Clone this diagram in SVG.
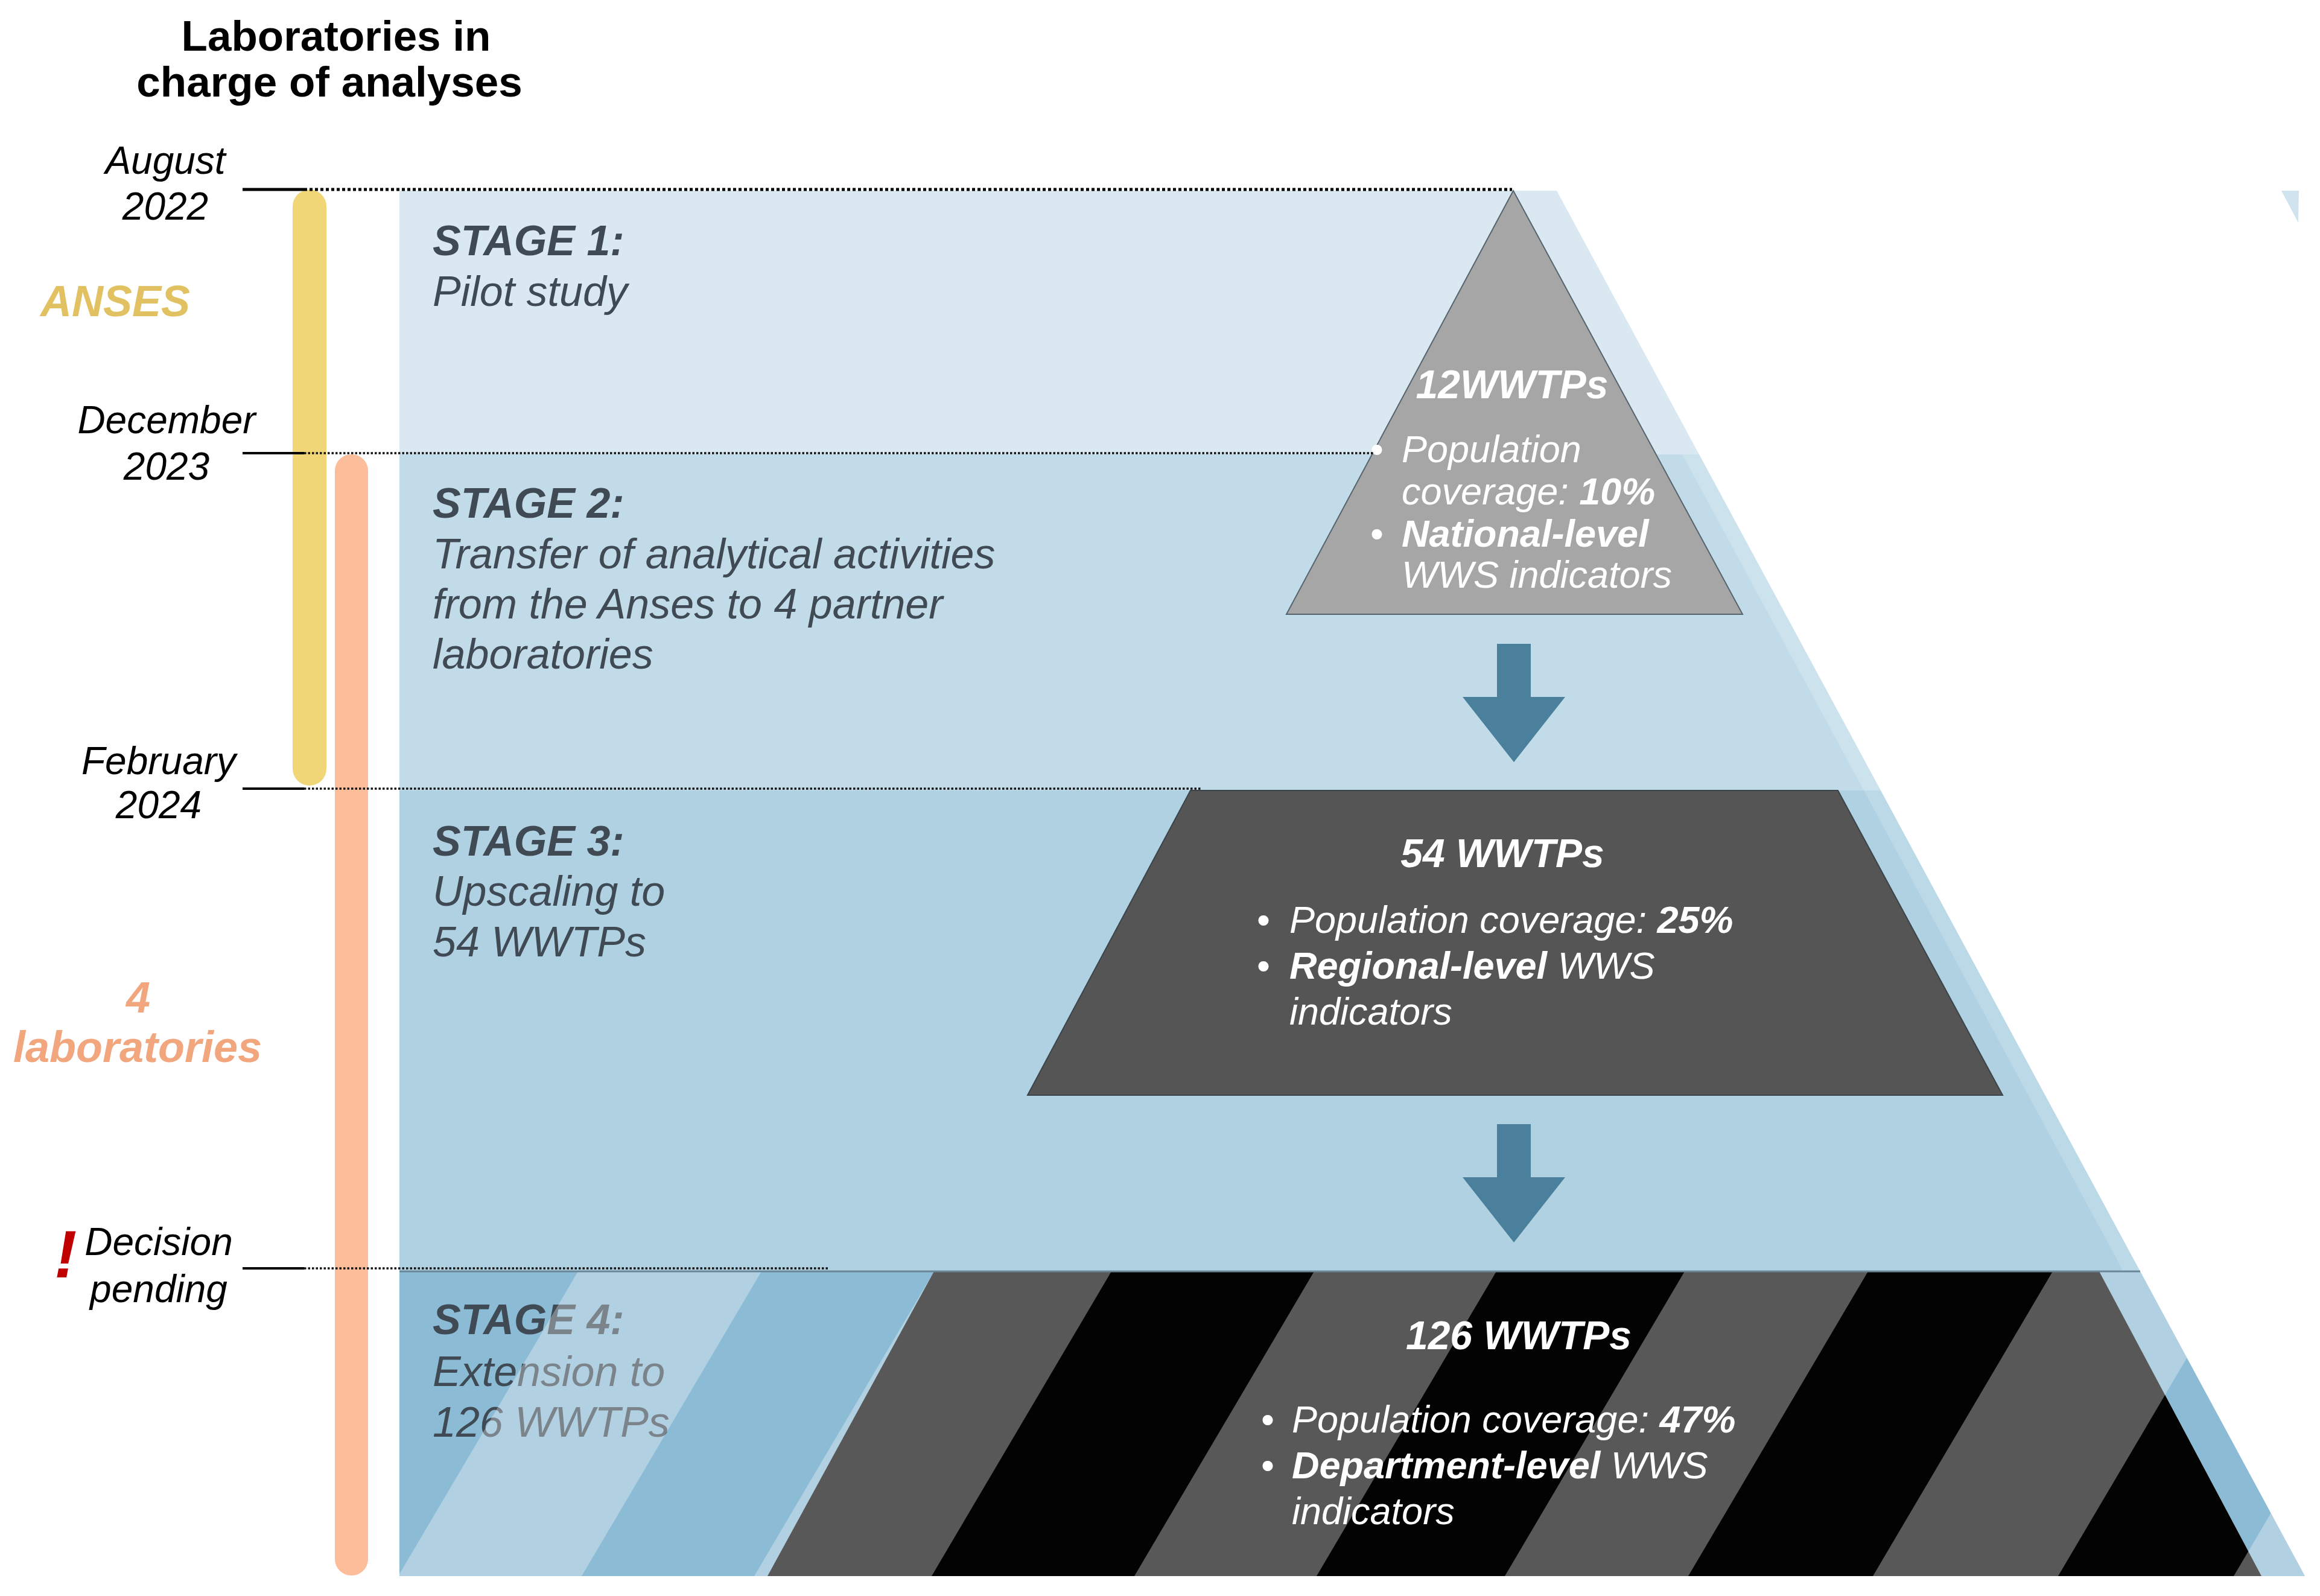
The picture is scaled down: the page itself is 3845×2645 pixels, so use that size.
<svg xmlns="http://www.w3.org/2000/svg" width="3845" height="2645" viewBox="0 0 3845 2645">
<style>
  text { font-family: "Liberation Sans", Arial, sans-serif; }
  .title { font-weight: bold; font-size: 71px; fill: #000; text-anchor: middle; }
  .date { font-style: italic; font-size: 64px; fill: #000; text-anchor: middle; }
  .stage { font-weight: bold; font-style: italic; font-size: 70px; fill: #3f4a54; }
  .desc { font-style: italic; font-size: 70px; fill: #3f4a54; }
  .wt { font-weight: bold; font-style: italic; font-size: 66px; fill: #fff; text-anchor: middle; }
  .bt { font-style: italic; font-size: 63px; fill: #fff; }
  .bul { font-size: 63px; fill: #fff; }
  .b { font-weight: bold; }
  .tick { stroke: #000; stroke-width: 5; }
  .dotA { stroke: #000; stroke-width: 5; stroke-dasharray: 5 4; fill: none; }
  .dotB { stroke: #111; stroke-width: 3.5; stroke-dasharray: 3.5 3; fill: none; }
  .arrow { fill: #4a809b; }
  .lab { font-weight: bold; font-style: italic; font-size: 72px; }
</style>
<defs>
  <clipPath id="band4"><polygon points="662,2107 3547,2107 3820,2612 662,2612"/></clipPath>
  <clipPath id="trap4"><polygon points="1548,2107 3479,2107 3748,2612 1272,2612"/></clipPath>
</defs>
<rect x="0" y="0" width="3845" height="2645" fill="#fff"/>

<g id="pyramid-bands">
  <polygon points="662,316 2580,316 2816,753 662,753" fill="#dae9f1"/>
  <polygon points="662,753 2816,753 3117,1310 662,1310" fill="#cce2ed"/>
  <polygon points="662,753 2788,753 3089,1310 662,1310" fill="#c2dbe8"/>
  <polygon points="662,1310 3117,1310 3547,2107 662,2107" fill="#bcd9e8"/>
  <polygon points="662,1310 3089,1310 3519,2107 662,2107" fill="#b0d1e2"/>
  <polygon points="3781,316 3810,316 3809,369" fill="#cfe4ef"/>
</g>

<g id="stage1">
  <text class="stage" x="717" y="423">STAGE 1:</text>
  <text class="desc" x="717" y="507">Pilot study</text>
</g>
<g id="stage2">
  <text class="stage" x="717" y="858">STAGE 2:</text>
  <text class="desc" x="717" y="942">Transfer of analytical activities</text>
  <text class="desc" x="717" y="1025">from the Anses to 4 partner</text>
  <text class="desc" x="717" y="1108">laboratories</text>
</g>
<g id="stage3">
  <text class="stage" x="717" y="1418">STAGE 3:</text>
  <text class="desc" x="717" y="1501">Upscaling to</text>
  <text class="desc" x="717" y="1585">54 WWTPs</text>
</g>

<g id="stage4">
  <polygon points="662,2107 3547,2107 3820,2612 662,2612" fill="#8cbbd5"/>
  <text class="stage" x="717" y="2211">STAGE 4:</text>
  <text class="desc" x="717" y="2297">Extension to</text>
  <text class="desc" x="717" y="2381">126 WWTPs</text>
  <g clip-path="url(#band4)" fill="#fff" fill-opacity="0.32">
    <polygon points="958,2107 1262,2107 964,2612 660,2612"/>
    <polygon points="1548,2107 1842,2107 1544,2612 1250,2612"/>
    <polygon points="2178,2107 2480,2107 2182,2612 1880,2612"/>
    <polygon points="2792,2107 3096,2107 2798,2612 2494,2612"/>
    <polygon points="3402,2107 3709,2107 3411,2612 3104,2612"/>
    <polygon points="4000,2107 4300,2107 4002,2612 3702,2612"/>
  </g>
  <polygon points="1548,2107 3479,2107 3748,2612 1272,2612" fill="#585858"/>
  <g clip-path="url(#trap4)" fill="#030303">
    <polygon points="1842,2107 2178,2107 1880,2612 1544,2612"/>
    <polygon points="2480,2107 2792,2107 2494,2612 2182,2612"/>
    <polygon points="3096,2107 3402,2107 3104,2612 2798,2612"/>
    <polygon points="3709,2107 4000,2107 3702,2612 3411,2612"/>
  </g>
  <line x1="662" y1="2107" x2="3547" y2="2107" stroke="#6a8797" stroke-width="3"/>
</g>

<g id="node-12wwtps">
  <polygon points="2508,316 2132,1018 2888,1018" fill="#a6a6a6" stroke="#56646e" stroke-width="2"/>
  <text class="wt" x="2506" y="660">12WWTPs</text>
  <text class="bul" x="2271" y="766">•</text>
  <text class="bt" x="2323" y="766">Population</text>
  <text class="bt" x="2323" y="836">coverage: <tspan class="b">10%</tspan></text>
  <text class="bul" x="2271" y="906">•</text>
  <text class="bt" x="2323" y="906"><tspan class="b">National-level</tspan></text>
  <text class="bt" x="2323" y="974">WWS indicators</text>
</g>

<g id="node-54wwtps">
  <polygon points="1973,1310 3046,1310 3319,1815 1703,1815" fill="#555555" stroke="#3b444b" stroke-width="2"/>
  <text class="wt" x="2490" y="1437">54 WWTPs</text>
  <text class="bul" x="2083" y="1546">•</text>
  <text class="bt" x="2137" y="1546">Population coverage: <tspan class="b">25%</tspan></text>
  <text class="bul" x="2083" y="1622">•</text>
  <text class="bt" x="2137" y="1622"><tspan class="b">Regional-level</tspan> WWS</text>
  <text class="bt" x="2137" y="1698">indicators</text>
</g>

<g id="node-126wwtps">
  <text class="wt" x="2517" y="2236">126 WWTPs</text>
  <text class="bul" x="2090" y="2374">•</text>
  <text class="bt" x="2141" y="2374">Population coverage: <tspan class="b">47%</tspan></text>
  <text class="bul" x="2090" y="2450">•</text>
  <text class="bt" x="2141" y="2450"><tspan class="b">Department-level</tspan> WWS</text>
  <text class="bt" x="2141" y="2526">indicators</text>
</g>

<g id="connectors">
  <polygon class="arrow" points="2481,1067 2537,1067 2537,1155 2594,1155 2509,1263 2424,1155 2481,1155"/>
  <polygon class="arrow" points="2481,1863 2537,1863 2537,1951 2594,1951 2509,2059 2424,1951 2481,1951"/>
</g>

<g id="timeline">
  <rect x="485" y="314" width="56" height="988" rx="28" fill="#f1d677"/>
  <rect x="555" y="753" width="55" height="1858" rx="27" fill="#fbbd9a"/>
  <line class="tick" x1="402" y1="314" x2="504" y2="314"/>
  <line class="dotA" x1="504" y1="314" x2="2506" y2="314"/>
  <line class="tick" x1="402" y1="751" x2="504" y2="751" style="stroke-width:4"/>
  <line class="dotB" x1="504" y1="751" x2="2276" y2="751"/>
  <line class="tick" x1="402" y1="1307" x2="504" y2="1307" style="stroke-width:4"/>
  <line class="dotB" x1="504" y1="1307" x2="1990" y2="1307"/>
  <line class="tick" x1="402" y1="2102" x2="504" y2="2102" style="stroke-width:4"/>
  <line class="dotB" x1="504" y1="2102" x2="1375" y2="2102"/>
</g>

<g id="labels">
  <text class="title" x="557" y="84">Laboratories in</text>
  <text class="title" x="546" y="160">charge of analyses</text>
  <text class="date" x="274" y="288">August</text>
  <text class="date" x="274" y="364">2022</text>
  <text class="date" x="276" y="718">December</text>
  <text class="date" x="276" y="795">2023</text>
  <text class="date" x="263" y="1283">February</text>
  <text class="date" x="263" y="1356">2024</text>
  <text class="date" x="263" y="2080">Decision</text>
  <text class="date" x="263" y="2158">pending</text>
  <text x="90" y="2117" font-size="112" font-weight="bold" font-style="italic" fill="#c00000">!</text>
  <text class="lab" x="67" y="524" fill="#e2c162">ANSES</text>
  <text class="lab" x="229" y="1678" fill="#f2a67e" text-anchor="middle">4</text>
  <text class="lab" x="228" y="1760" fill="#f2a67e" text-anchor="middle">laboratories</text>
</g>
</svg>
